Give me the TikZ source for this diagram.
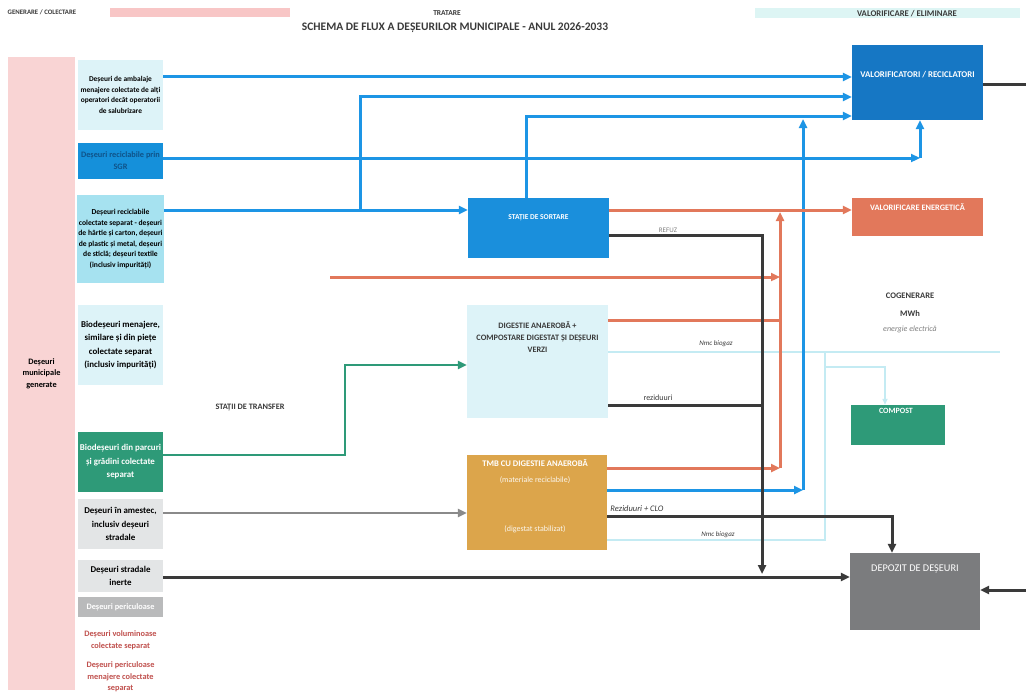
\documentclass[tikz,border=0pt]{standalone}
\usepackage{fontspec}
\setmainfont{Carlito}
\usetikzlibrary{arrows.meta}
\definecolor{pinkcol}{HTML}{F9D4D4}
\definecolor{pinkband}{HTML}{F8C6C6}
\definecolor{cyanband}{HTML}{DDF5F4}
\definecolor{lcyan}{HTML}{DDF3F8}
\definecolor{mcyan}{HTML}{A6E2F0}
\definecolor{sgrblue}{HTML}{1590DA}
\definecolor{sortblue}{HTML}{1A8FDC}
\definecolor{valblue}{HTML}{1677C4}
\definecolor{arrblue}{HTML}{1D95E5}
\definecolor{orng}{HTML}{E2785B}
\definecolor{tmbc}{HTML}{DCA54B}
\definecolor{grn}{HTML}{2E9A78}
\definecolor{lgray}{HTML}{E3E5E6}
\definecolor{mgray}{HTML}{B9BABB}
\definecolor{dgray}{HTML}{7B7C7E}
\definecolor{dline}{HTML}{3A3A3A}
\definecolor{gline}{HTML}{8A8A8A}
\definecolor{cline}{HTML}{C4EBF3}
\definecolor{redtxt}{HTML}{C0504D}
\begin{document}
\begin{tikzpicture}[x=1pt,y=-1pt,
  box/.style={draw=none,inner sep=1pt,align=center},
  sm/.style={font=\fontsize{7.4}{10.5}\selectfont\bfseries},
  md/.style={font=\fontsize{8.9}{13.5}\selectfont\bfseries},
  bl/.style={draw=arrblue,line width=3pt,-{Triangle[length=9pt,width=8pt]}},
  blp/.style={draw=arrblue,line width=3pt},
  orp/.style={draw=orng,line width=3pt},
  or/.style={draw=orng,line width=3pt,-{Triangle[length=9pt,width=8pt]}},
  dk/.style={draw=dline,line width=3pt,-{Triangle[length=9pt,width=8pt]}},
  dkp/.style={draw=dline,line width=3pt},
  gy/.style={draw=gline,line width=2.5pt,-{Triangle[length=9pt,width=8pt]}},
  gr/.style={draw=grn,line width=2.5pt,-{Triangle[length=9pt,width=8pt]}},
  cl/.style={draw=cline,line width=1.5pt},
  cla/.style={draw=cline,line width=1.5pt,-{Triangle[length=6pt,width=5pt]}},
  lbl/.style={font=\fontsize{7}{8}\selectfont\itshape,text=dline,inner sep=1pt}
]
\useasboundingbox (0,0) rectangle (1026,693);
\fill[white] (0,0) rectangle (1026,693);

% header
\fill[pinkband] (110,8) rectangle (290,17);
\fill[cyanband] (755,8) rectangle (1020,18);
\node[font=\fontsize{6.8}{8}\selectfont\bfseries,text=dline] (hgen) at (42,12.5) {GENERARE / COLECTARE};
\node[font=\fontsize{7.5}{9}\selectfont\bfseries,text=dline] (htrat) at (447,13) {TRATARE};
\node[font=\fontsize{11.5}{13}\selectfont\bfseries,text=dline] (htitle) at (455,28) {SCHEMA DE FLUX A DEȘEURILOR MUNICIPALE - ANUL 2026-2033};
\node[font=\fontsize{8.7}{10}\selectfont\bfseries,text=dline] (hval) at (907,13.5) {VALORIFICARE / ELIMINARE};

% left column
\node[box,fill=pinkcol,minimum width=67,minimum height=633,font=\fontsize{8.3}{11.5}\selectfont\bfseries] (gen) at (41.5,373.5) {Deșeuri\\municipale\\generate};

\node[box,fill=lcyan,minimum width=85,minimum height=70,sm] (b1) at (120.5,95) {Deșeuri de ambalaje\\menajere colectate de alți\\operatori decât operatorii\\de salubrizare};
\node[box,fill=sgrblue,minimum width=85,minimum height=36,font=\fontsize{8.3}{12}\selectfont\bfseries,text=valblue!70!black] (b2) at (120.5,161) {Deșeuri reciclabile prin\\SGR};
\node[box,fill=mcyan,minimum width=85,minimum height=88,font=\fontsize{7.6}{10.5}\selectfont\bfseries] (b3) at (120.5,239) {Deșeuri reciclabile\\colectate separat - deșeuri\\de hârtie și carton, deșeuri\\de plastic și metal, deșeuri\\de sticlă; deșeuri textile\\(inclusiv impurități)};
\node[box,fill=lcyan,minimum width=85,minimum height=80,md] (b4) at (120.5,345) {Biodeșeuri menajere,\\similare și din piețe\\colectate separat\\(inclusiv impurități)};
\node[box,fill=grn,minimum width=85,minimum height=60,md,text=white] (b5) at (120.5,462) {Biodeșeuri din parcuri\\și grădini colectate\\separat};
\node[box,fill=lgray,minimum width=85,minimum height=50,md] (b6) at (120.5,524) {Deșeuri în amestec,\\inclusiv deșeuri\\stradale};
\node[box,fill=lgray,minimum width=85,minimum height=32,md] (b7) at (120.5,576) {Deșeuri stradale\\inerte};
\node[box,fill=mgray,minimum width=85,minimum height=20,font=\fontsize{8.3}{9}\selectfont\bfseries,text=white] (b8) at (120.5,607) {Deșeuri periculoase};
\node[box,font=\fontsize{8.3}{11.5}\selectfont\bfseries,text=redtxt] (t9) at (120.5,640) {Deșeuri voluminoase\\colectate separat};
\node[box,font=\fontsize{8.3}{11.5}\selectfont\bfseries,text=redtxt] (t10) at (120.5,677) {Deșeuri periculoase\\menajere colectate\\separat};

% centre
\node[box,fill=sortblue,minimum width=141,minimum height=60] (sort) at (538.5,228) {};
\node[font=\fontsize{7.5}{9}\selectfont\bfseries,text=white] (sortt) at (538.5,218) {STAȚIE DE SORTARE};
\node[box,fill=lcyan,minimum width=141,minimum height=113] (dig) at (537.5,361.5) {};
\node[font=\fontsize{8.3}{12}\selectfont\bfseries,text=dline,align=center] (digt) at (537.5,337) {DIGESTIE ANAEROBĂ +\\COMPOSTARE DIGESTAT ȘI DEȘEURI\\VERZI};
\node[box,fill=tmbc,minimum width=140,minimum height=95] (tmb) at (537,502.5) {};
\node[font=\fontsize{8.6}{9}\selectfont\bfseries,text=white] (tmbt) at (535,463) {TMB CU DIGESTIE ANAEROBĂ};
\node[font=\fontsize{8}{9}\selectfont,text=white!90!tmbc] (tmbt2) at (535,480) {(materiale reciclabile)};
\node[font=\fontsize{8}{9}\selectfont,text=white!90!tmbc] (tmbt3) at (535,529) {(digestat stabilizat)};
\node[font=\fontsize{8.3}{10}\selectfont\bfseries,text=dline] (transf) at (250,408) {STAȚII DE TRANSFER};

% right
\node[box,fill=valblue,minimum width=131,minimum height=75] (val) at (917.5,82.5) {};
\node[font=\fontsize{8.8}{10}\selectfont\bfseries,text=white] (valt) at (917.5,75) {VALORIFICATORI / RECICLATORI};
\node[box,fill=orng,minimum width=131,minimum height=38] (en) at (917.5,217) {};
\node[font=\fontsize{8.3}{10}\selectfont\bfseries,text=white] (ent) at (917.5,207) {VALORIFICARE ENERGETICĂ};
\node[font=\fontsize{8.5}{10}\selectfont\bfseries,text=dline] (cog) at (910,296) {COGENERARE};
\node[font=\fontsize{8.5}{10}\selectfont\bfseries,text=dline] (mwh) at (910,314) {MWh};
\node[font=\fontsize{8}{10}\selectfont\itshape,text=gray] (ee) at (910,329) {energie electrică};
\node[box,fill=grn,minimum width=94,minimum height=40] (comp) at (898,425) {};
\node[font=\fontsize{8}{10}\selectfont\bfseries,text=white] (compt) at (896,411) {COMPOST};
\node[box,fill=dgray,minimum width=130,minimum height=77] (dep) at (915,591.5) {};
\node[font=\fontsize{10.3}{11}\selectfont,text=white] (dept) at (915,569) {DEPOZIT DE DEȘEURI};

% helper coordinates
\coordinate (y77) at (0,77);
\coordinate (y97) at (0,97);
\coordinate (y116) at (0,116);
\coordinate (y158) at (0,158);
\coordinate (y210) at (0,210);
\coordinate (y235) at (0,235);
\coordinate (y320) at (0,320);
\coordinate (y352) at (0,352);
\coordinate (y365) at (0,365);
\coordinate (y405) at (0,405);
\coordinate (y455) at (0,455);
\coordinate (y468) at (0,468);
\coordinate (y490) at (0,490);
\coordinate (y513) at (0,513);
\coordinate (y516) at (0,516);
\coordinate (y540) at (0,540);
\coordinate (y577) at (0,577);
\coordinate (y590) at (0,590);
\coordinate (y85) at (0,85);
\coordinate (j1) at (360,210);
\coordinate (c920) at (920,158);
\coordinate (x526) at (526,0);
\coordinate (c803) at (803,490);
\coordinate (c803t) at (803,119);
\coordinate (o330) at (330,277);
\coordinate (o780a) at (780,277);
\coordinate (o780b) at (780,320);
\coordinate (o780c) at (780,468);
\coordinate (o780t) at (780,212);
\coordinate (k762a) at (762,235);
\coordinate (k762b) at (762,405);
\coordinate (k762t) at (762,574);
\coordinate (k892) at (892,516);
\coordinate (redge) at (1026,590);
\coordinate (redge2) at (1026,85);
\coordinate (g1) at (345,455);
\coordinate (l1000) at (1000,352);
\coordinate (l825a) at (825,540);
\coordinate (l825b) at (825,352);
\coordinate (l825c) at (825,367);
\coordinate (l885) at (885,367);

% light cyan biogas / compost lines
\draw[cl] (dig.east |- y352) -- (l1000);
\draw[cl] (tmb.east |- y540) -- (l825a) -- (l825b);
\draw[cla] (l825c) -- (l885) -- (comp.north -| l885);
\node[lbl] (nb1) at (716,344) {Nmc biogaz};
\node[lbl] (nb2) at (718,535) {Nmc biogaz};

% blue
\draw[bl] (b1.east |- y77) -- (val.west |- y77);
\draw[bl] (b3.east |- y210) -- (sort.west |- y210);
\draw[bl] (j1) |- (val.west |- y97);
\draw[bl] (b2.east |- y158) -- (c920);
\draw[bl] (c920) -- (val.south -| c920);
\draw[bl] (sort.north -| x526) |- (val.west |- y116);
\draw[bl] (tmb.east |- y490) -- (c803);
\draw[bl] (c803) -- (c803t);

% orange
\draw[or] (sort.east |- y210) -- (en.west |- y210);
\draw[or] (o330) -- (o780a);
\draw[orp] (dig.east |- y320) -- (o780b);
\draw[or] (tmb.east |- y468) -- (o780c);
\draw[or] (o780c) -- (o780t);

% dark
\draw[dk] (sort.east |- y235) -- (k762a) -- (k762t);
\node[lbl,font=\fontsize{7}{8}\selectfont,text=gray] (refuz) at (668,230) {REFUZ};
\draw[dkp] (dig.east |- y405) -- (k762b);
\node[lbl,font=\fontsize{8}{9}\selectfont] (rez) at (658,398) {reziduuri};
\draw[dk] (tmb.east |- y516) -- (k892) -- (dep.north -| k892);
\node[lbl,font=\fontsize{8.5}{9}\selectfont\itshape] (rezc) at (637,509) {Reziduuri + CLO};
\draw[dk] (b7.east |- y577) -- (dep.west |- y577);
\draw[dk] (redge) -- (dep.east |- y590);
\draw[dkp] (val.east |- y85) -- (redge2);

% gray
\draw[gy] (b6.east |- y513) -- (tmb.west |- y513);

% green
\draw[gr] (b5.east |- y455) -- (g1) |- (dig.west |- y365);
\end{tikzpicture}
\end{document}
